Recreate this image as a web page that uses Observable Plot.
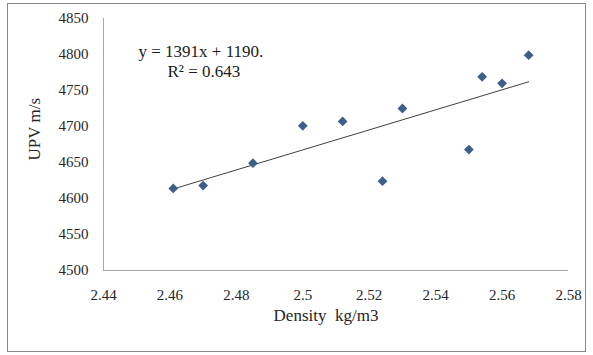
<!DOCTYPE html>
<html>
<head>
<meta charset="utf-8">
<script src="https://cdn.jsdelivr.net/npm/d3@7"></script>
<script src="https://cdn.jsdelivr.net/npm/@observablehq/plot@0.6"></script>
<style>
  html, body { margin: 0; padding: 0; background: #fff; }
  #wrap { position: relative; width: 593px; height: 355px; }
  #border { position: absolute; left: 7px; top: 3px; width: 577px; height: 347px; border: 1.5px solid #8a8a8a; pointer-events: none; }
  #chart svg, #chart svg text { font-family: 'Liberation Serif', 'Times New Roman', serif !important; }
</style>
</head>
<body>
<div id="wrap"><div id="border"></div><div id="chart"></div></div>
<script>
// Data
const density = [2.461, 2.470, 2.485, 2.500, 2.512, 2.524, 2.530, 2.550, 2.554, 2.560, 2.568];
const upv     = [4614, 4618, 4649, 4701, 4707, 4624, 4725, 4668, 4769, 4760, 4799];
const slope = 1391, intercept = 1190;
const xTicks = [2.44, 2.46, 2.48, 2.50, 2.52, 2.54, 2.56, 2.58];
const yTicks = [4500, 4550, 4600, 4650, 4700, 4750, 4800, 4850];
const xTitle = "Density  kg/m3";
const yTitle = "UPV m/s";
const equationText = "y = 1391x + 1190.";
const r2Text = "R² = 0.643";

const points = density.map((d, i) => ({x: d, y: upv[i]}));
const xr = d3.extent(density);
const trend = xr.map(x => ({x, y: slope * x + intercept}));
const serif = "'Liberation Serif', 'Times New Roman', serif";

const chart = Plot.plot({
  width: 593,
  height: 355,
  marginLeft: 103,
  marginRight: 25,
  marginTop: 18,
  marginBottom: 85,
  style: {fontFamily: serif, fontSize: "15px", color: "#262626", background: "transparent"},
  x: {domain: [2.44, 2.58]},
  y: {domain: [4500, 4850]},
  marks: [
    Plot.axisX({ticks: xTicks, tickSize: 0, tickPadding: 19, fontSize: 15, fontFamily: serif, fill: "#262626", tickFormat: d => String(+d.toFixed(2)), label: null}),
    Plot.axisY({ticks: yTicks, tickSize: 0, tickPadding: 15, fontSize: 15, fontFamily: serif, fill: "#262626", tickFormat: d3.format("d"), label: null}),
    Plot.ruleX([2.44], {stroke: "#a6a6a6", strokeWidth: 1}),
    Plot.ruleY([4500], {stroke: "#a6a6a6", strokeWidth: 1}),
    Plot.line(trend, {x: "x", y: "y", stroke: "#404040", strokeWidth: 1}),
    Plot.dot(points, {x: "x", y: "y", symbol: "diamond2", r: 4.4, fill: "#3e5f8c", stroke: "none"}),
    Plot.text([xTitle], {frameAnchor: "bottom", dx: -10, dy: 50, text: d => d, fontSize: 17, fontFamily: serif, fill: "#262626"}),
    Plot.text([yTitle], {frameAnchor: "left", dx: -69, dy: 16, rotate: -90, text: d => d, fontSize: 17, fontFamily: serif, fill: "#262626"}),
    Plot.text([equationText], {frameAnchor: "top-left", dx: 35, dy: 26, text: d => d, textAnchor: "start", fontSize: 17, fontFamily: serif, fill: "#1a1a1a"}),
    Plot.text([r2Text], {frameAnchor: "top-left", dx: 64, dy: 46, text: d => d, textAnchor: "start", fontSize: 17, fontFamily: serif, fill: "#1a1a1a"})
  ]
});
document.getElementById("chart").appendChild(chart);
</script>
</body>
</html>
